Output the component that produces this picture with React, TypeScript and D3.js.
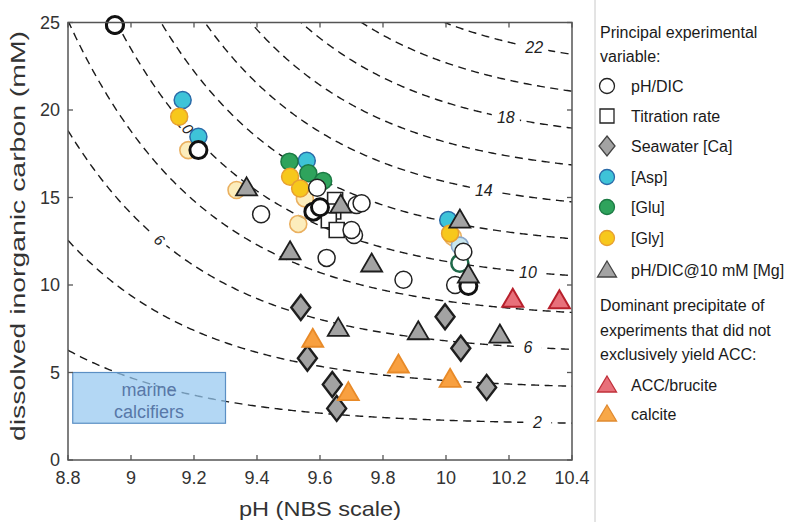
import React from "react";
import * as d3 from "d3";

type P = [number, number]; // [pH, DIC]

// ---- data (pH NBS, DIC mM) ----
const pHDIC: P[] = [
  [9.413, 14.04], [9.591, 15.56], [9.716, 14.57], [9.732, 14.67], [9.708, 12.86],
  [9.7, 13.14], [9.621, 11.55], [9.865, 10.3], [10.055, 11.9], [10.029, 10.0],
];
const pHDICBold: P[] = [
  [8.949, 24.86], [9.214, 17.71], [9.579, 14.19], [9.6, 14.44], [10.071, 9.94],
];
const titration: P[] = [
  [9.648, 14.86], [9.642, 14.2], [9.628, 13.7], [9.653, 13.14],
];
const seawaterCa: P[] = [
  [9.539, 8.72], [9.56, 5.81], [9.639, 4.32], [9.653, 2.95],
  [9.997, 8.19], [10.047, 6.38], [10.129, 4.15],
];
const asp: P[] = [[9.164, 20.57], [9.214, 18.47], [9.558, 17.1], [10.007, 13.71]];
const aspFaded: P[] = [[10.044, 12.25]];
const glu: P[] = [[9.503, 17.05], [9.563, 16.38], [9.61, 15.95]];
const gluOpen: P[] = [[10.044, 11.24]];
const gly: P[] = [[9.153, 19.62], [9.505, 16.19], [9.537, 15.52], [10.013, 12.95]];
const glyFaded: P[] = [
  [9.182, 17.71], [9.335, 15.43], [9.531, 13.49], [9.552, 14.95], [10.022, 12.75],
];
const mg: P[] = [
  [9.367, 15.55], [9.505, 11.9], [9.666, 14.57], [9.764, 11.2], [9.658, 7.52],
  [9.912, 7.33], [10.171, 7.14], [10.044, 13.71], [10.071, 10.57],
];
const accBrucite: P[] = [[10.212, 9.18], [10.36, 9.1]];
const calcite: P[] = [[9.577, 6.9], [9.69, 3.85], [9.849, 5.43], [10.013, 4.61]];

// carbonate-ion isolines (mM)
const contourLevels = [2, 4, 6, 8, 10, 12, 14, 16, 18, 20, 22, 24];
const pK2 = 9.13;
const labelsRight: { level: number; pH: number }[] = [
  { level: 22, pH: 10.28 }, { level: 18, pH: 10.19 }, { level: 14, pH: 10.12 },
  { level: 10, pH: 10.26 }, { level: 6, pH: 10.26 }, { level: 2, pH: 10.29 },
];
const labelsLeft: { level: number; pH: number; text: string }[] = [
  { level: 6, pH: 9.09, text: "6" },
  { level: 10, pH: 9.171, text: "10" },
];
const marineBox = { pH0: 8.815, pH1: 9.3, dic0: 2.1, dic1: 5.0 };

const xTicks = [8.8, 9, 9.2, 9.4, 9.6, 9.8, 10, 10.2, 10.4];
const yTicks = [0, 5, 10, 15, 20, 25];

// ---- layout ----
const W = 808, H = 522;
const L = 68, R = 572, T = 22.5, B = 460;
const x = d3.scaleLinear().domain([8.8, 10.4]).range([L, R]);
const y = d3.scaleLinear().domain([0, 25]).range([B, T]);
const dicOf = (c: number, pH: number) => c * (1 + Math.pow(10, pK2 - pH));

const FONT = "'Liberation Sans', Arial, Helvetica, sans-serif";

const circ = (r: number) => d3.symbol().type(d3.symbolCircle).size(Math.PI * r * r)() || "";
const triPath = "M0,-10.5L10.5,7.5L-10.5,7.5Z";
const diaPath = "M0,-12.5L9.5,0L0,12.5L-9.5,0Z";
const sqPath = "M-7.5,-7.5H7.5V7.5H-7.5Z";

function Marks({ data, path, fill, stroke, sw, opacity = 1 }: any) {
  return (
    <g>
      {data.map((d: P, i: number) => (
        <path key={i} d={path} transform={`translate(${x(d[0])},${y(d[1])})`}
          fill={fill} stroke={stroke} strokeWidth={sw} fillOpacity={opacity} />
      ))}
    </g>
  );
}

export default function App() {
  const pHs = d3.range(8.8, 10.4001, 0.005);
  const contourPaths = contourLevels.map((c) => {
    const pts = pHs.map((p) => [p, dicOf(c, p)] as [number, number]);
    return d3.line<[number, number]>().x((d) => x(d[0])).y((d) => y(Math.min(d[1], 40)))(pts) || "";
  });

  const slopeAngle = (c: number, pH: number) => {
    const dx = x(pH + 0.01) - x(pH);
    const dy = y(dicOf(c, pH + 0.01)) - y(dicOf(c, pH));
    return (Math.atan2(dy, dx) * 180) / Math.PI;
  };

  const legendItems: { label: string; y: number; kind: string }[] = [
    { label: "pH/DIC", y: 86, kind: "open" },
    { label: "Titration rate", y: 116, kind: "sq" },
    { label: "Seawater [Ca]", y: 146, kind: "dia" },
    { label: "[Asp]", y: 177, kind: "asp" },
    { label: "[Glu]", y: 207, kind: "glu" },
    { label: "[Gly]", y: 238, kind: "gly" },
    { label: "pH/DIC@10 mM [Mg]", y: 270, kind: "tri" },
    { label: "ACC/brucite", y: 385, kind: "red" },
    { label: "calcite", y: 414, kind: "orange" },
  ];
  const legendMarker = (k: string) => {
    const c7 = circ(7.5);
    switch (k) {
      case "open": return <path d={c7} fill="#fff" stroke="#222" strokeWidth={1.3} />;
      case "sq": return <path d="M-7,-7H7V7H-7Z" fill="#fff" stroke="#222" strokeWidth={1.3} />;
      case "dia": return <path d="M0,-10L8,0L0,10L-8,0Z" fill="#a3a3a3" stroke="#444" strokeWidth={1.3} />;
      case "asp": return <path d={c7} fill="#3ec3d8" stroke="#2a6aa8" strokeWidth={1.3} />;
      case "glu": return <path d={c7} fill="#2fa35c" stroke="#1c7a44" strokeWidth={1.3} />;
      case "gly": return <path d={c7} fill="#f7c81c" stroke="#e8a030" strokeWidth={1.3} />;
      case "tri": return <path d="M0,-9L9.5,7L-9.5,7Z" fill="#a3a3a3" stroke="#444" strokeWidth={1.3} />;
      case "red": return <path d="M0,-9L9.5,7L-9.5,7Z" fill="#e8707a" stroke="#c0303a" strokeWidth={1.3} />;
      case "orange": return <path d="M0,-9L9.5,7L-9.5,7Z" fill="#f8a848" stroke="#e08a30" strokeWidth={1.3} />;
    }
    return null;
  };

  const boxCx = (x(marineBox.pH0) + x(marineBox.pH1)) / 2;

  return (
    <svg width={W} height={H} style={{ position: "fixed", left: 0, top: 0, background: "#fff" }}
      fontFamily={FONT}>
      <rect x={0} y={0} width={W} height={H} fill="#fff" />
      <defs>
        <clipPath id="plot"><rect x={L} y={T} width={R - L} height={B - T} /></clipPath>
      </defs>

      {/* contour lines */}
      <g clipPath="url(#plot)">
        {contourPaths.map((d, i) => (
          <path key={i} d={d} fill="none" stroke="#1a1a1a" strokeWidth={1.4} strokeDasharray="8,5.5" />
        ))}
        {labelsRight.map((lb, i) => {
          const cx = x(lb.pH), cy = y(dicOf(lb.level, lb.pH));
          return (
            <g key={i} transform={`translate(${cx},${cy})`}>
              <rect x={-14} y={-9} width={28} height={18} fill="#fff" />
              <text textAnchor="middle" dy="0.35em" fontSize={16} fontStyle="italic" fill="#222">{lb.level}</text>
            </g>
          );
        })}
        {labelsLeft.map((lb, i) => {
          const cx = x(lb.pH), cy = y(dicOf(lb.level, lb.pH));
          const a = slopeAngle(lb.level, lb.pH);
          return (
            <g key={i} transform={`translate(${cx},${cy}) rotate(${a})`}>
              <rect x={-9} y={-8} width={18} height={16} fill="#fff" />
              <text textAnchor="middle" dy="0.35em" fontSize={15} fontStyle="italic" fill="#222">{lb.text}</text>
            </g>
          );
        })}
      </g>

      {/* marine calcifiers */}
      <rect x={x(marineBox.pH0)} y={y(marineBox.dic1)} width={x(marineBox.pH1) - x(marineBox.pH0)}
        height={y(marineBox.dic0) - y(marineBox.dic1)} fill="#96c8f0" fillOpacity={0.72}
        stroke="#5b8fc4" strokeWidth={1.2} />
      <text x={boxCx} y={y(3.65)} textAnchor="middle" fontSize={18} fill="#5878a8">marine</text>
      <text x={boxCx} y={y(2.4)} textAnchor="middle" fontSize={18} fill="#5878a8">calcifiers</text>

      {/* markers */}
      <g clipPath="url(#plot)">
        <Marks data={glyFaded} path={circ(8.5)} fill="#fbe6a0" stroke="#eab060" sw={1.6} opacity={0.7} />
        <Marks data={aspFaded} path={circ(8.5)} fill="#c8e6ee" stroke="#8aa8cc" sw={1.6} />
        <Marks data={asp} path={circ(8.5)} fill="#3ec3d8" stroke="#2a6aa8" sw={1.5} />
        <Marks data={glu} path={circ(8.5)} fill="#2fa35c" stroke="#1c7a44" sw={1.5} />
        <Marks data={gly} path={circ(8.5)} fill="#f7c81c" stroke="#e8a030" sw={1.5} />
        <Marks data={gluOpen} path={circ(8.5)} fill="#fff" stroke="#1f6a4a" sw={2.6} />
        <Marks data={titration} path={sqPath} fill="#fff" stroke="#222" sw={1.6} />
        <Marks data={pHDIC} path={circ(8.5)} fill="#fff" stroke="#222" sw={1.5} />
        <Marks data={pHDICBold} path={circ(8.5)} fill="#fff" stroke="#111" sw={3} />
        <Marks data={seawaterCa} path={diaPath} fill="#a3a3a3" stroke="#1e1e1e" sw={2.4} />
        <Marks data={mg} path={triPath} fill="#a3a3a3" stroke="#1e1e1e" sw={1.8} />
        <Marks data={calcite} path={triPath} fill="#f8a040" stroke="#e88a28" sw={1.8} />
        <Marks data={accBrucite} path={triPath} fill="#e8707a" stroke="#b8202c" sw={2} />
      </g>
      {/* point partly outside top edge */}
      <Marks data={pHDICBold.filter((d) => d[1] > 24.5)} path={circ(8.5)} fill="#fff" stroke="#111" sw={3} />

      {/* axes box */}
      <rect x={L} y={T} width={R - L} height={B - T} fill="none" stroke="#555" strokeWidth={1.5} />
      {xTicks.map((t, i) => (
        <g key={i}>
          <line x1={x(t)} x2={x(t)} y1={B} y2={B - 5} stroke="#555" strokeWidth={1.3} />
          <line x1={x(t)} x2={x(t)} y1={T} y2={T + 5} stroke="#555" strokeWidth={1.3} />
          <text x={x(t)} y={B + 24} textAnchor="middle" fontSize={18} fill="#333">{t}</text>
        </g>
      ))}
      {yTicks.map((t, i) => (
        <g key={i}>
          <line x1={L} x2={L + 5} y1={y(t)} y2={y(t)} stroke="#555" strokeWidth={1.3} />
          <line x1={R} x2={R - 5} y1={y(t)} y2={y(t)} stroke="#555" strokeWidth={1.3} />
          <text x={L - 8} y={y(t)} dy="0.35em" textAnchor="end" fontSize={18} fill="#333">{t}</text>
        </g>
      ))}
      <text x={(L + R) / 2} y={516} textAnchor="middle" fontSize={21} fill="#333"
        textLength={162} lengthAdjust="spacingAndGlyphs">pH (NBS scale)</text>
      <text transform={`translate(25,236) rotate(-90)`} textAnchor="middle" fontSize={21} fill="#333"
        textLength={410} lengthAdjust="spacingAndGlyphs">
        dissolved inorganic carbon (mM)
      </text>

      {/* legend */}
      <line x1={595} x2={595} y1={0} y2={H} stroke="#c8c8c8" strokeWidth={1} />
      <g fontSize={16} fill="#1a1a1a">
        <text x={600} y={38}>Principal experimental</text>
        <text x={600} y={62}>variable:</text>
        <text x={600} y={311}>Dominant precipitate of</text>
        <text x={600} y={336}>experiments that did not</text>
        <text x={600} y={360}>exclusively yield ACC:</text>
        {legendItems.map((it, i) => (
          <g key={i}>
            <g transform={`translate(607,${it.y})`}>{legendMarker(it.kind)}</g>
            <text x={631} y={it.y + 6}>{it.label}</text>
          </g>
        ))}
      </g>
    </svg>
  );
}
